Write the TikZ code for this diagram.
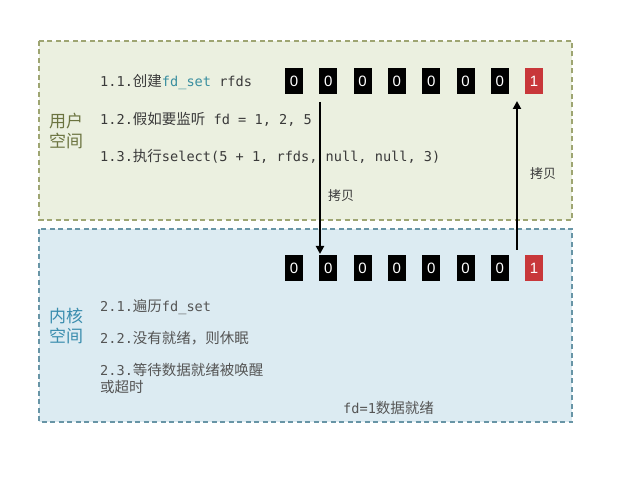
\documentclass[tikz,border=0pt]{standalone}
\usepackage{fontspec}
\setmainfont{DejaVu Sans}
\setmonofont{DejaVu Sans Mono}
\newfontfamily\cjk{Noto Sans CJK SC}
\newfontfamily\digitfont{Liberation Sans}
\usetikzlibrary{arrows.meta}
\newcommand\zh[1]{{\cjk\fontsize{14.5}{16}\selectfont #1}}
\definecolor{ufill}{HTML}{EBF0E0}
\definecolor{uline}{HTML}{9EA572}
\definecolor{kfill}{HTML}{DCEBF2}
\definecolor{kline}{HTML}{6895A6}
\definecolor{utext}{HTML}{6B7440}
\definecolor{ktext}{HTML}{3A8DAE}
\definecolor{teal}{HTML}{3A8FA0}
\definecolor{bitred}{HTML}{C8373A}
\definecolor{txt}{HTML}{3A3A3A}
\definecolor{ktxt}{HTML}{555555}
\tikzset{
  region/.style={line width=1.1pt, dash pattern=on 5pt off 3.5pt},
  bit/.style={fill=black, text=white, minimum width=18pt, minimum height=26pt, inner sep=0pt,
    font=\digitfont\fontsize{15}{15}\selectfont},
  redbit/.style={bit, fill=bitred},
  code/.style={anchor=west, inner sep=0pt, text=txt, font=\ttfamily\fontsize{13.6}{16}\selectfont},
  kcode/.style={code, text=ktxt},
  space/.style={font=\cjk\fontsize{17}{20}\selectfont, align=center, inner sep=0pt},
  copylbl/.style={font=\cjk\fontsize{13}{15}\selectfont, text=txt, inner sep=0pt},
  copyarrow/.style={line width=2.4pt, -{Triangle[length=8pt,width=8pt]}},
}
\begin{document}
\begin{tikzpicture}[x=1pt,y=-1pt]
\useasboundingbox (0,0) rectangle (640,478);
\fill[white] (0,0) rectangle (640,478);
% regions
\draw[region, fill=ufill, draw=uline] (39,41) rectangle (572,220);
\draw[region, fill=kfill, draw=kline] (39,229) rectangle (572,422);
% region labels
\node[space, text=utext] (user) at (66,131) {用户\\空间};
\node[space, text=ktext] (kern) at (66,326) {内核\\空间};
% user code
\node[code] (c11) at (100,82) {1.1.\zh{创建}\textcolor{teal}{fd\_set} rfds};
\node[code] (c12) at (100,119) {1.2.\zh{假如要监听} fd = 1, 2, 5};
\node[code] (c13) at (100,156) {1.3.\zh{执行}select(5 + 1, rfds, null, null, 3)};
% kernel code
\node[kcode] (k21) at (100,307) {2.1.\zh{遍历}fd\_set};
\node[kcode] (k22) at (100,338) {2.2.\zh{没有就绪，则休眠}};
\node[kcode] (k23) at (100,370) {2.3.\zh{等待数据就绪被唤醒}};
\node[kcode] (k23b) at (100,387) {\zh{或超时}};
\node[kcode] (k24) at (343,408) {fd=1\zh{数据就绪}};
% bit rows
\foreach \i in {0,...,6} {
  \node[bit] (u\i) at ({294+34.3*\i},81) {0};
  \node[bit] (k\i) at ({294+34.3*\i},268) {0};
}
\node[redbit] (u7) at ({294+34.3*7},81) {1};
\node[redbit] (k7) at ({294+34.3*7},268) {1};
% arrows
\coordinate (dstart) at (320,102);
\coordinate (dend) at (320,254);
\coordinate (ustart) at (517,250);
\coordinate (uend) at (517,101);
\draw[copyarrow] (dstart) -- (dend);
\draw[copyarrow] (ustart) -- (uend);
\node[copylbl] (l1) at (341,196) {拷贝};
\node[copylbl] (l2) at (543,174) {拷贝};
\end{tikzpicture}
\end{document}
